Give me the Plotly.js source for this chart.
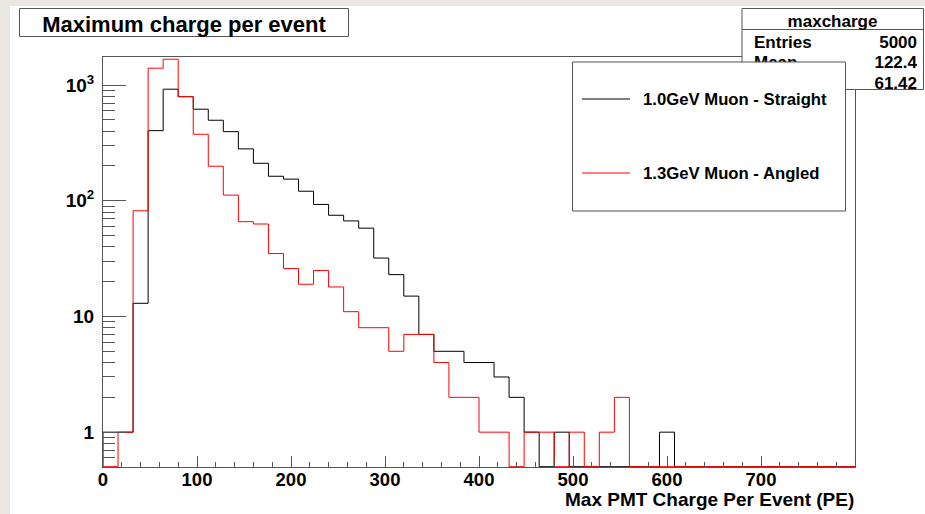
<!DOCTYPE html>
<html>
<head>
<meta charset="utf-8">
<script src="https://cdn.plot.ly/plotly-3.0.1.min.js"></script>
<style>html,body{margin:0;padding:0;background:#ebe8e1;}#chart{width:925px;height:514px;}</style>
</head>
<body>
<div id="chart"></div>
<script>
// Histogram binning: 50 bins of width 16 from 0 to 800
const binWidth = 16;
const nBins = 50;
const xMin = 0;

// Counts per bin, 1.0 GeV Muon - Straight (black)
const straight = [1,1,13,404,922,795,619,497,396,281,
                  211,163,154,121,93,75,67,58,32,23,
                  15,7,5,5,4,4,3,2,1,0,
                  1,0,0,0,0,0,0,1,0,0,
                  0,0,0,0,0,0,0,0,0,0];
// Counts per bin, 1.3 GeV Muon - Angled (red)
const angled = [0,1,82,1400,1675,795,376,199,112,66,
                63,35,26,19,25,18,11,8,8,5,
                7,7,4,2,2,1,1,0,1,1,
                0,1,0,1,2,0,0,0,0,0,
                0,0,0,0,0,0,0,0,0,0];

const seriesNames = ['1.0GeV Muon - Straight', '1.3GeV Muon - Angled'];
const xTickVals = [0,100,200,300,400,500,600,700];
const yTickVals = [1,10,100,1000];
const yTickText = ['1','10','10<sup>2</sup>','10<sup>3</sup>'];
const statsName = 'maxcharge';
const statsLabels = ['Entries','Mean','RMS'];
const statsValues = ['5000','122.4','61.42'];
const chartTitle = 'Maximum charge per event';
const xTitle = 'Max PMT Charge Per Event (PE)';

const yMin = 0.5;
const floorVal = yMin * 1.006;

function stepTrace(counts, color, name) {
  const xs = [xMin], ys = [floorVal];
  for (let i = 0; i < nBins; i++) {
    xs.push(xMin + i * binWidth);
    ys.push(counts[i] > 0 ? counts[i] : floorVal);
  }
  xs.push(xMin + nBins * binWidth); ys.push(counts[nBins-1] > 0 ? counts[nBins-1] : floorVal);
  xs.push(xMin + nBins * binWidth); ys.push(floorVal);
  return {x: xs, y: ys, type: 'scatter', mode: 'lines', name: name,
          line: {shape: 'hv', color: color, width: 1}, hoverinfo: 'skip', showlegend: false};
}

const L = 103, T = 57, W = 752, H = 410;
function px(x) { return (x - L) / W; }
function py(y) { return (T + H - y) / H; }
const FONT = 'Liberation Sans, Arial, Helvetica, sans-serif';
const FR = '#555';

function textShape(x0, x1, y0, y1, text, pos, size) {
  return {type: 'rect', xref: 'paper', yref: 'paper', layer: 'above',
    x0: px(x0), x1: px(x1), y0: py(y1), y1: py(y0),
    line: {width: 0}, fillcolor: 'rgba(0,0,0,0)',
    label: {text: '<b>' + text + '</b>', textposition: pos, padding: 0,
            font: {family: FONT, size: size, color: '#000'}}};
}

const shapes = [
  // canvas pad
  {type: 'rect', xref: 'paper', yref: 'paper', layer: 'below',
   x0: px(10), x1: px(926), y0: py(515), y1: py(6), fillcolor: '#ffffff', line: {width: 0}},
  // title box
  {type: 'rect', xref: 'paper', yref: 'paper', layer: 'above',
   x0: px(19.5), x1: px(348.5), y0: py(36.5), y1: py(8.5), fillcolor: '#ffffff', line: {color: FR, width: 1},
   label: {text: '<b>' + chartTitle + '</b>', textposition: 'middle center', padding: 0,
           font: {family: FONT, size: 22, color: '#000'}}},
  // stats box
  {type: 'rect', xref: 'paper', yref: 'paper', layer: 'above',
   x0: px(742), x1: px(923.5), y0: py(89.5), y1: py(8.5), fillcolor: '#ffffff', line: {color: FR, width: 1}},
  {type: 'line', xref: 'paper', yref: 'paper', layer: 'above',
   x0: px(742), x1: px(923.5), y0: py(29.5), y1: py(29.5), line: {color: FR, width: 1}},
  textShape(742, 923, 9, 29, statsName, 'middle center', 17),
];
for (let i = 0; i < statsLabels.length; i++) {
  const yc = 40 + i * 20.5;
  shapes.push(textShape(751, 840, yc - 9, yc + 9, statsLabels[i], 'middle left', 17));
  shapes.push(textShape(840, 920, yc - 9, yc + 9, statsValues[i], 'middle right', 17));
}
// legend box (covers part of the stats box)
shapes.push({type: 'rect', xref: 'paper', yref: 'paper', layer: 'above',
   x0: px(572.5), x1: px(845.5), y0: py(211), y1: py(62), fillcolor: '#ffffff', line: {color: FR, width: 1}});
const legendColors = ['#000000', '#ff0000'];
const legendY = [99, 173];
const annotations = [];
for (let i = 0; i < 2; i++) {
  shapes.push({type: 'line', xref: 'paper', yref: 'paper', layer: 'above',
    x0: px(582), x1: px(630), y0: py(legendY[i]), y1: py(legendY[i]), line: {color: legendColors[i], width: 1}});
  annotations.push({xref: 'paper', yref: 'paper', x: px(641), y: py(legendY[i]), xanchor: 'left', yanchor: 'middle',
    text: '<b>' + seriesNames[i] + '</b>', showarrow: false, font: {family: FONT, size: 16.7, color: '#000'}});
}
annotations.push({xref: 'paper', yref: 'paper', x: px(856), y: py(499), xanchor: 'right', yanchor: 'middle',
  text: '<b>' + xTitle + '</b>', showarrow: false, font: {family: FONT, size: 19, color: '#000'}});

const data = [stepTrace(straight, '#000000', seriesNames[0]), stepTrace(angled, '#ff0000', seriesNames[1])];

const layout = {
  width: 925, height: 514,
  margin: {l: L, r: 925 - L - W, t: T, b: 514 - T - H, pad: 0},
  paper_bgcolor: '#ebe8e1', plot_bgcolor: '#ffffff',
  showlegend: false,
  xaxis: {range: [0, 800], showgrid: false, zeroline: false, showline: true, mirror: true,
    linecolor: FR, linewidth: 1, ticks: 'inside', ticklen: 11, tickcolor: FR, tickwidth: 1,
    tickvals: xTickVals, ticktext: xTickVals.map(v => '<b>' + v + '</b>'),
    tickfont: {family: FONT, size: 18.5, color: '#000'}, ticklabelstandoff: -4,
    minor: {dtick: 20, tick0: 0, ticks: 'inside', ticklen: 5, tickcolor: FR, tickwidth: 1, showgrid: false}},
  yaxis: {type: 'log', range: [Math.log10(yMin), 3.243], showgrid: false, zeroline: false, showline: true, mirror: true,
    linecolor: FR, linewidth: 1, ticks: 'inside', ticklen: 23, tickcolor: FR, tickwidth: 1,
    tickvals: yTickVals, ticktext: yTickText.map(t => '<b>' + t + '</b>'),
    tickfont: {family: FONT, size: 19, color: '#000'}, ticklabelstandoff: 4,
    minor: {dtick: 'D1', ticks: 'inside', ticklen: 12, tickcolor: FR, tickwidth: 1, showgrid: false}},
  shapes: shapes,
  annotations: annotations
};

Plotly.newPlot('chart', data, layout, {displayModeBar: false, staticPlot: true});
</script>
</body>
</html>
